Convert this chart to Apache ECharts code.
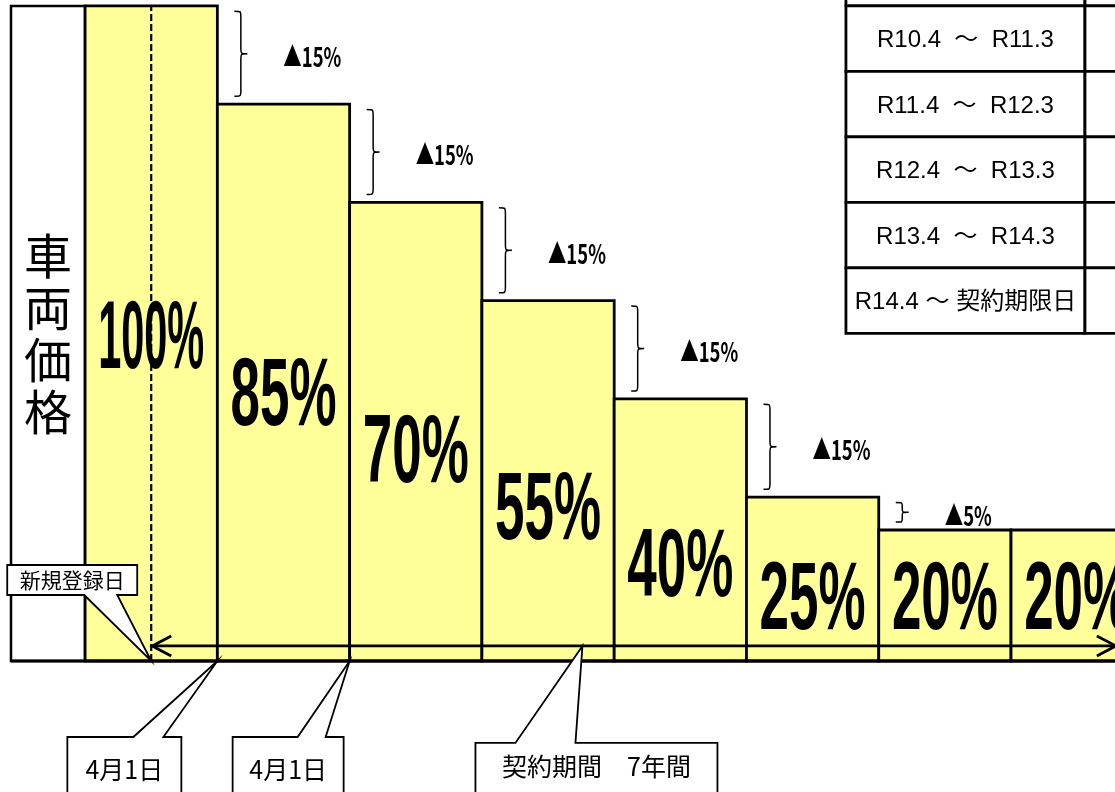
<!DOCTYPE html>
<html><head><meta charset="utf-8">
<script src="https://cdn.jsdelivr.net/npm/echarts@6/dist/echarts.min.js"></script>
<style>html,body{margin:0;padding:0;background:#fff}#main{width:1115px;height:792px}</style>
</head><body><div id="main"></div>
<script>
// ---------- data ----------
const axisTitle = '車両価格';
const barLabels = ['100%', '85%', '70%', '55%', '40%', '25%', '20%', '20%'];
const barValues = [100, 85, 70, 55, 40, 25, 20, 20];
const dropLabels = ['▲15%', '▲15%', '▲15%', '▲15%', '▲15%', '▲5%'];
const tableRows = ['', 'R10.4  ～  R11.3', 'R11.4  ～  R12.3', 'R12.4  ～  R13.3', 'R13.4  ～  R14.3', 'R14.4 ～ 契約期限日'];
const calloutTexts = ['新規登録日', '4月1日', '4月1日', '契約期間　7年間'];
const calloutAtX = [0.5, 1, 2, 3.76];
const calloutAtY = [0, 0, 0, 2.3];
const registrationX = 0.5;
const contractArrowY = 2.3;
const contractArrowEnd = 7.8;

// ---------- style / layout ----------
const YELLOW = '#FFFF99';
const X_MIN = -0.56, X_MAX = 7.786, Y_MAX = 100.9;
const titleSpan = [-0.56, 0];
const tableCols = [5.752, 7.559, 9.5];
const tableTop = 110, tableRowH = 10;
// pixel offsets from anchor: [left, right, top, bottom, tailL, tailR, textDy]
const calloutBoxes = [
  [-144, -14, -96, -66, -67, -34, -81],
  [-150, -36, 76, 160, -84, -54, 108],
  [-117, -6, 76, 160, -52, -24, 108],
  [-107, 135, 97, 160, -67, -7, 121]
];
const calloutFontSize = [21, 25, 25, 25];
const JP = '"Noto Sans CJK JP", "Noto Sans", sans-serif';
const LAT = '"Liberation Sans", Arial, "Noto Sans CJK JP", sans-serif';

const mctx = document.createElement('canvas').getContext('2d');
function textW(str, font) { mctx.font = font; return mctx.measureText(str).width; }
const BIG_SIZE = 97, BIG_W = 106;
const DROP_SIZE = 27;
const dropScale = 58 / textW('▲15%', 'bold ' + DROP_SIZE + 'px ' + JP);

const chart = echarts.init(document.getElementById('main'), null, { renderer: 'canvas' });

const series = [];
// title box
series.push({
  type: 'custom', z: 1, data: [[0, 0]],
  renderItem: function (params, api) {
    const p0 = api.coord([titleSpan[0], 100]);
    const p1 = api.coord([titleSpan[1], 0]);
    const c = api.coord([(titleSpan[0] + titleSpan[1]) / 2, 50]);
    return { type: 'group', children: [
      { type: 'rect', shape: { x: p0[0], y: p0[1], width: p1[0] - p0[0], height: p1[1] - p0[1] },
        style: { fill: '#fff', stroke: '#000', lineWidth: 2.5 } },
      { type: 'text', x: c[0], y: c[1],
        style: { text: axisTitle.split('').join('\n'), fontSize: 48, fontFamily: JP, lineHeight: 52,
                 fill: '#000', align: 'center', verticalAlign: 'middle' } }
    ] };
  }
});
// bars
series.push({
  type: 'custom', z: 2, data: barValues.map((v, i) => [i, v]),
  renderItem: function (params, api) {
    const i = params.dataIndex;
    const p0 = api.coord([i, barValues[i]]);
    const p1 = api.coord([i + 1, 0]);
    return { type: 'rect', shape: { x: p0[0], y: p0[1], width: p1[0] - p0[0], height: p1[1] - p0[1] },
      style: { fill: YELLOW, stroke: '#000', lineWidth: 2.8 } };
  }
});
// registration dashed line
series.push({
  type: 'custom', z: 3, data: [[registrationX, 0]],
  renderItem: function (params, api) {
    const a = api.coord([registrationX, 0]), b = api.coord([registrationX, 100]);
    return { type: 'line', shape: { x1: a[0], y1: a[1], x2: b[0], y2: b[1] },
      style: { stroke: '#000', lineWidth: 2.2, lineDash: [7, 3] } };
  }
});
// contract arrow
series.push({
  type: 'custom', z: 4, data: [[registrationX, contractArrowY]],
  renderItem: function (params, api) {
    const a = api.coord([registrationX, contractArrowY]), b = api.coord([contractArrowEnd, contractArrowY]);
    const st = { stroke: '#000', lineWidth: 2.8, fill: 'none' };
    return { type: 'group', children: [
      { type: 'line', shape: { x1: a[0], y1: a[1], x2: b[0], y2: b[1] }, style: st },
      { type: 'polyline', shape: { points: [[a[0] + 20, a[1] - 10], [a[0] + 1, a[1]], [a[0] + 20, a[1] + 10]] }, style: st },
      { type: 'polyline', shape: { points: [[b[0] - 20, b[1] - 10], [b[0] - 1, b[1]], [b[0] - 20, b[1] + 10]] }, style: st }
    ] };
  }
});
// baseline
series.push({
  type: 'custom', z: 5, data: [[0, 0]],
  renderItem: function (params, api) {
    const a = api.coord([X_MIN, 0]), b = api.coord([X_MAX, 0]);
    return { type: 'line', shape: { x1: a[0], y1: a[1], x2: b[0], y2: b[1] },
      style: { stroke: '#000', lineWidth: 3.2 } };
  }
});
// bar labels
series.push({
  type: 'custom', z: 6, data: barValues.map((v, i) => [i + 0.5, v]),
  renderItem: function (params, api) {
    const i = params.dataIndex;
    const v = barValues[i];
    const yv = Math.max(v * 0.58 - 8.5, 9.8);
    const c = api.coord([i + 0.5, yv]);
    const font = 'bold ' + BIG_SIZE + 'px ' + LAT;
    const sx = BIG_W / textW(barLabels[i], font);
    return { type: 'text', x: c[0], y: c[1] + 5, scaleX: sx,
      style: { text: barLabels[i], fontSize: BIG_SIZE, fontWeight: 'bold', fontFamily: LAT,
               fill: '#000', align: 'center', verticalAlign: 'middle' } };
  }
});
// braces + drop labels
function bracePath(x0, y0, x1, y1) {
  const xm = (x0 + x1) / 2, ym = (y0 + y1) / 2, c = Math.min(6, (y1 - y0) / 6);
  return 'M' + x0 + ',' + y0 + ' C' + xm + ',' + y0 + ' ' + xm + ',' + y0 + ' ' + xm + ',' + (y0 + c) +
    ' L' + xm + ',' + (ym - c) + ' C' + xm + ',' + ym + ' ' + xm + ',' + ym + ' ' + x1 + ',' + ym +
    ' C' + xm + ',' + ym + ' ' + xm + ',' + ym + ' ' + xm + ',' + (ym + c) +
    ' L' + xm + ',' + (y1 - c) + ' C' + xm + ',' + y1 + ' ' + xm + ',' + y1 + ' ' + x0 + ',' + y1;
}
series.push({
  type: 'custom', z: 7, data: dropLabels.map((t, i) => [i + 1, barValues[i]]),
  renderItem: function (params, api) {
    const i = params.dataIndex;
    const top = api.coord([i + 1, barValues[i] - 0.8]);
    const bot = api.coord([i + 1, barValues[i + 1] + 1.2]);
    const x0 = top[0] + 17, x1 = top[0] + 30;
    const ym = (top[1] + bot[1]) / 2;
    return { type: 'group', children: [
      { type: 'path', shape: { pathData: bracePath(x0, top[1], x1, bot[1]) },
        style: { stroke: '#000', lineWidth: 1.5, fill: 'none' } },
      { type: 'text', x: top[0] + 66, y: ym + 3, scaleX: dropScale,
        style: { text: dropLabels[i], fontSize: DROP_SIZE, fontWeight: 'bold', fontFamily: JP,
                 fill: '#000', align: 'left', verticalAlign: 'middle' } }
    ] };
  }
});
// table
series.push({
  type: 'custom', z: 8, data: tableRows.map((t, i) => [tableCols[0], tableTop - i * tableRowH]),
  renderItem: function (params, api) {
    const i = params.dataIndex;
    const yT = tableTop - i * tableRowH, yB = yT - tableRowH;
    const a = api.coord([tableCols[0], yT]), b = api.coord([tableCols[1], yB]), c = api.coord([tableCols[2], yB]);
    const st = { fill: '#fff', stroke: '#000', lineWidth: 2.8 };
    return { type: 'group', children: [
      { type: 'rect', shape: { x: a[0], y: a[1], width: b[0] - a[0], height: b[1] - a[1] }, style: st },
      { type: 'rect', shape: { x: b[0], y: a[1], width: c[0] - b[0], height: b[1] - a[1] }, style: st },
      { type: 'text', x: (a[0] + b[0]) / 2, y: (a[1] + b[1]) / 2 + 2,
        style: { text: tableRows[i], fontSize: 24, fontFamily: LAT, fill: '#000', align: 'center', verticalAlign: 'middle' } }
    ] };
  }
});
// callouts
series.push({
  type: 'custom', z: 9, data: calloutTexts.map((t, i) => [calloutAtX[i], calloutAtY[i]]),
  renderItem: function (params, api) {
    const i = params.dataIndex;
    const p = api.coord([calloutAtX[i], calloutAtY[i]]);
    const [L, R, T, B, tl, tr, tdy] = calloutBoxes[i];
    const X = p[0], Y = p[1];
    let pts;
    if (T < 0) {
      pts = [[X + L, Y + T], [X + R, Y + T], [X + R, Y + B], [X + tr, Y + B], [X, Y], [X + tl, Y + B], [X + L, Y + B]];
    } else {
      pts = [[X + L, Y + T], [X + tl, Y + T], [X, Y], [X + tr, Y + T], [X + R, Y + T], [X + R, Y + B], [X + L, Y + B]];
    }
    return { type: 'group', children: [
      { type: 'polygon', shape: { points: pts }, style: { fill: '#fff', stroke: '#000', lineWidth: 1.8 } },
      { type: 'text', x: X + (L + R) / 2, y: Y + tdy,
        style: { text: calloutTexts[i], fontSize: calloutFontSize[i], fontFamily: JP, fill: '#000',
                 align: 'center', verticalAlign: 'middle' } }
    ] };
  }
});

chart.setOption({
  animation: false,
  backgroundColor: '#fff',
  grid: { left: 11, right: 0, top: 0, bottom: 131 },
  xAxis: { type: 'value', min: X_MIN, max: X_MAX, show: false },
  yAxis: { type: 'value', min: 0, max: Y_MAX, show: false },
  series: series
});
</script>
</body></html>
